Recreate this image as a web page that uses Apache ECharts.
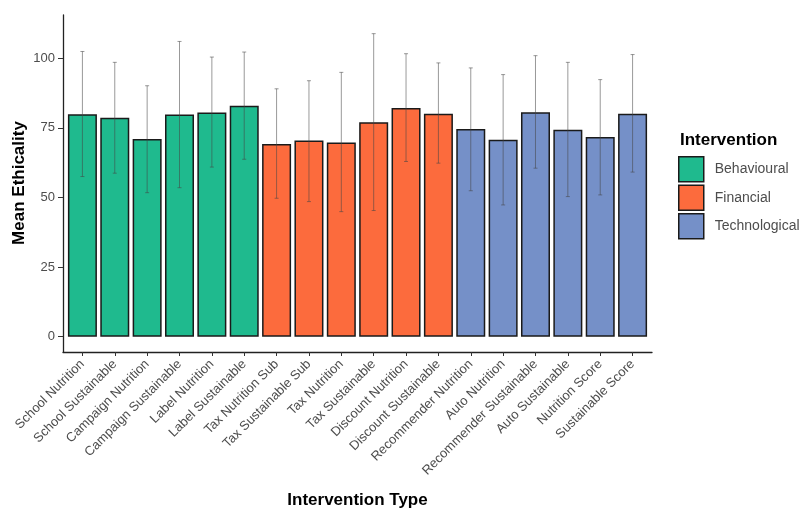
<!DOCTYPE html>
<html><head><meta charset="utf-8">
<script src="https://cdn.jsdelivr.net/npm/echarts@6/dist/echarts.min.js"></script>
<style>html,body{margin:0;padding:0;background:#fff}#c{width:801px;height:509px}</style>
</head><body><div id="c"></div>
<script>
const categories = ["School Nutrition","School Sustainable","Campaign Nutrition","Campaign Sustainable","Label Nutrition","Label Sustainable","Tax Nutrition Sub","Tax Sustainable Sub","Tax Nutrition","Tax Sustainable","Discount Nutrition","Discount Sustainable","Recommender Nutrition","Auto Nutrition","Recommender Sustainable","Auto Sustainable","Nutrition Score","Sustainable Score"];
const groups = ["Behavioural","Behavioural","Behavioural","Behavioural","Behavioural","Behavioural","Financial","Financial","Financial","Financial","Financial","Financial","Technological","Technological","Technological","Technological","Technological","Technological"];
const means = [79.9,78.6,71.0,79.8,80.5,82.9,69.2,70.4,69.7,77.0,82.1,80.0,74.6,70.7,80.6,74.3,71.7,80.0];
const errLow = [57.5,58.7,51.7,53.5,60.9,63.7,49.7,48.5,44.9,45.3,62.9,62.3,52.4,47.3,60.5,50.3,50.9,59.1];
const errHigh = [102.4,98.5,90.1,106.0,100.4,102.2,89.0,91.9,94.9,108.8,101.6,98.3,96.5,94.1,100.9,98.5,92.3,101.3];
const groupNames = ["Behavioural","Financial","Technological"];
const yTicks = [0,25,50,75,100];
const colors = {"Behavioural":"#1fba8e","Financial":"#fc6b3d","Technological":"#7590c8"};

const chart = echarts.init(document.getElementById('c'));
const font = 'Liberation Sans, Arial, sans-serif';
const xIdx = categories.map((_, i) => i);
const barSeries = groupNames.map(g => ({
  name: g, type: 'bar', barWidth: 29, barGap: '-100%',
  itemStyle: {color: colors[g], borderColor: '#1a1a1a', borderWidth: 1.5},
  data: categories.map((c, i) => groups[i] === g ? [i, means[i]] : null).filter(d => d),
  z: 2
}));
const errSeries = {
  type: 'custom', name: 'err', z: 5, silent: true,
  data: categories.map((c, i) => [i, errLow[i], errHigh[i]]),
  renderItem: (params, api) => {
    const lo = api.coord([api.value(0), api.value(1)]);
    const hi = api.coord([api.value(0), api.value(2)]);
    const w = 2;
    const st = {stroke: 'rgba(70,70,70,0.55)', lineWidth: 1};
    return {type: 'group', children: [
      {type: 'line', shape: {x1: lo[0], y1: lo[1], x2: hi[0], y2: hi[1]}, style: st},
      {type: 'line', shape: {x1: lo[0]-w, y1: lo[1], x2: lo[0]+w, y2: lo[1]}, style: st},
      {type: 'line', shape: {x1: hi[0]-w, y1: hi[1], x2: hi[0]+w, y2: hi[1]}, style: st}
    ]};
  }
};
chart.setOption({
  animation: false,
  textStyle: {fontFamily: font},
  grid: {left: 63, right: 149, top: 15, bottom: 157, containLabel: false, outerBoundsMode: 'none'},
  xAxis: {
    type: 'value', min: -0.6, max: 17.6,
    name: 'Intervention Type', nameLocation: 'middle', nameGap: 140, nameMoveOverlap: false,
    nameTextStyle: {fontSize: 17, fontWeight: 'bold', color: '#000', fontFamily: font},
    axisLine: {show: true, onZero: false, lineStyle: {color: '#222', width: 1.3}},
    axisTick: {show: true, length: 4, customValues: xIdx, lineStyle: {color: '#333'}},
    axisLabel: {customValues: xIdx, rotate: 45, margin: 10, fontSize: 13, color: '#4d4d4d', fontFamily: font,
      formatter: v => categories[Math.round(v)]},
    splitLine: {show: false}
  },
  yAxis: {
    type: 'value', min: -5.5, max: 115.5,
    axisLine: {show: true, onZero: false, lineStyle: {color: '#222', width: 1.3}},
    axisTick: {show: true, length: 5, customValues: yTicks, lineStyle: {color: '#333'}},
    axisLabel: {customValues: yTicks, fontSize: 13, color: '#4d4d4d', margin: 8, fontFamily: font},
    splitLine: {show: false}
  },
  legend: {
    data: groupNames, orient: 'vertical', left: 678, top: 156, padding: 0, icon: 'rect',
    itemWidth: 25, itemHeight: 25, itemGap: 2,
    textStyle: {fontSize: 14, color: '#4d4d4d', fontFamily: font, padding: [0, 0, 0, 6]},
    itemStyle: {borderColor: '#1a1a1a', borderWidth: 1.5}
  },
  graphic: [
    {type: 'text', left: 680, top: 132, style: {text: 'Intervention', font: 'bold 17px ' + font, fill: '#000'}},
    {type: 'text', x: 19, y: 183, rotation: Math.PI / 2,
      style: {text: 'Mean Ethicality', font: 'bold 17px ' + font, fill: '#000', align: 'center', verticalAlign: 'middle'}}
  ],
  series: [...barSeries, errSeries]
});
</script></body></html>
